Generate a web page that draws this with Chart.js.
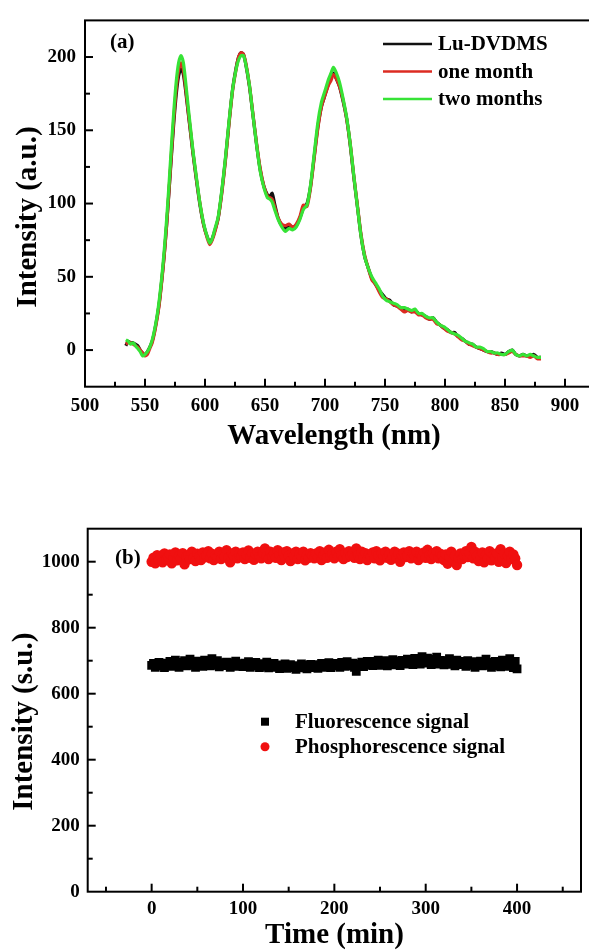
<!DOCTYPE html>
<html><head><meta charset="utf-8">
<script src="https://cdn.jsdelivr.net/npm/chart.js@4.4.0/dist/chart.umd.min.js"></script>
<style>
html,body{margin:0;padding:0;background:#fff;overflow:hidden;width:589px;height:951px;position:relative;}
#c1{position:absolute;left:0;top:0;}
#c2{position:absolute;left:0;top:470px;}
</style></head><body>
<canvas id="c1" width="600" height="470"></canvas>
<canvas id="c2" width="589" height="481"></canvas>
<script>
// ---------- data: panel (a) ----------
const wavelength = [534,536,538,540,542,544,546,548,550,552,554,556,558,560,562,564,566,568,570,572,574,576,578,580,582,584,586,588,590,
593,596,599,602,604,606,608,611,614,617,620,623,626,628,630,632,634,637,640,643,646,649,652,654,656,658,
661,664,667,670,673,676,679,682,685,688,691,694,697,700,703,705,707,709,
712,715,718,721,724,727,730,733,736,739,742,745,748,751,754,757,760,763,766,769,772,775,778,781,784,787,790,793,796,799,
802,805,808,811,814,817,820,823,826,829,832,835,838,841,844,847,850,853,856,859,862,865,868,871,874,877,880];
const luDVDMS = [3,6,5,5,4,3,0,-2,-3,-1,2,6,13,22,33,48,65,85,108,132,155,174,187,192,188,176,162,148,134,
115,98,85,77,74,76,81,90,108,130,155,178,193,200,203,202,195,180,160,140,123,112,106,105,107,100,
90,85,83,85,84,85,90,97,100,112,132,152,166,174,182,186,189,186,
180,170,158,140,118,98,78,64,56,49,45,41,38,35,34,31,30,29,27,28,26,27,25,24,23,21,22,19,17,15,
14,12,12,9,8,6,4,4,2,1,0,-1,-1,-2,-3,-2,-3,-1,0,-3,-4,-3,-4,-4,-3,-5,-5];
const oneMonth = [4,5,5,4,3,2,0,-2,-4,-3,1,5,12,21,32,47,64,85,109,134,158,178,191,196,191,178,163,149,135,
116,99,85,76,72,75,80,90,107,129,154,177,192,200,203,202,196,181,161,141,124,112,105,104,103,98,
90,86,85,86,84,86,91,99,98,111,131,151,166,174,181,184,188,186,
180,171,158,141,119,99,79,65,56,48,45,40,36,35,33,31,30,28,26,27,26,26,24,24,22,21,21,18,17,15,
13,12,11,9,7,6,4,3,2,1,0,-1,-2,-2,-3,-3,-3,-2,-1,-3,-4,-4,-4,-5,-4,-6,-6];
const twoMonths = [7,6,4,5,3,1,-1,-4,-3,-1,2,7,14,23,35,50,68,89,113,139,163,183,196,201,196,182,166,151,136,
117,99,86,77,73,76,82,91,109,131,156,178,192,198,201,201,195,181,160,140,122,111,104,103,101,96,
89,84,81,83,82,84,89,96,99,113,134,155,169,177,185,189,193,190,
183,172,159,141,119,98,78,64,56,50,46,42,37,34,33,32,31,29,29,28,27,28,25,25,23,22,22,19,17,16,
14,12,11,10,8,6,5,4,2,2,1,-1,-1,-2,-2,-3,-3,-1,0,-3,-4,-3,-4,-3,-4,-5,-5];
const specLabels = ['Lu-DVDMS','one month','two months'];
const specXTickLabels = [500,550,600,650,700,750,800,850,900];
const specYTickLabels = [0,50,100,150,200];
const specRange = {xMin:500, xMax:925, yMin:-25, yMax:225, xMinor:25, yMinor:25};

// ---------- data: panel (b) ----------
const timeMin = [0,2,4,6,8,10,12,14,16,18,20,22,24,26,28,30,32,34,36,38,40,42,44,46,48,50,52,54,56,58,
60,62,64,66,68,70,72,74,76,78,80,82,84,86,88,90,92,94,96,98,100,102,104,106,108,110,112,114,116,118,
120,122,124,126,128,130,132,134,136,138,140,142,144,146,148,150,152,154,156,158,160,162,164,166,168,170,172,174,176,178,
180,182,184,186,188,190,192,194,196,198,200,202,204,206,208,210,212,214,216,218,220,222,224,226,228,230,232,234,236,238,
240,242,244,246,248,250,252,254,256,258,260,262,264,266,268,270,272,274,276,278,280,282,284,286,288,290,292,294,296,298,
300,302,304,306,308,310,312,314,316,318,320,322,324,326,328,330,332,334,336,338,340,342,344,346,348,350,352,354,356,358,
360,362,364,366,368,370,372,374,376,378,380,382,384,386,388,390,392,394,396,398,400];
const fluorescence = [
686,692,680,688,695,684,690,679,693,686,
698,683,690,702,687,680,695,689,700,684,
691,705,686,694,680,699,688,696,683,702,
690,697,684,706,692,686,700,681,694,689,
685,696,690,680,694,687,699,683,691,688,
682,693,686,697,680,690,684,695,688,679,
691,685,683,696,678,689,684,692,680,687,
676,686,681,690,677,684,688,679,685,674,
683,678,690,680,686,675,684,689,679,682,
688,677,685,692,680,687,683,694,679,690,
684,692,686,680,695,688,683,697,689,685,
693,680,668,690,686,696,682,691,698,687,
692,685,698,690,702,686,695,689,700,684,
696,691,703,687,699,693,685,701,694,690,
705,692,698,688,707,695,700,690,712,697,
693,708,699,688,704,696,711,690,701,695,
687,700,693,706,689,697,684,702,692,698,
688,695,683,700,691,686,697,680,693,688,
699,684,692,705,686,695,680,690,698,685,
693,681,702,688,696,683,706,690,679,698,
675];
const phosphorescence = [
1000,1012,995,1020,1005,1018,998,1025,1008,1015,
1022,995,1012,1028,1004,1018,1010,1026,992,1015,
1020,1008,1030,1012,1002,1024,1016,1005,1028,1013,
1018,1032,1010,1024,1005,1020,1014,1030,1008,1022,
1015,1035,1012,998,1025,1018,1030,1010,1022,1016,
1028,1008,1020,1034,1012,1025,1006,1022,1030,1015,
1010,1026,1040,1018,1008,1030,1015,1024,1012,1035,
1020,1005,1028,1014,1032,1018,1002,1025,1015,1030,
1008,1022,1016,1030,1004,1020,1012,1026,1018,1010,
1025,1014,1032,1005,1020,1028,1012,1036,1018,1024,
1010,1030,1016,1038,1020,1008,1026,1014,1032,1018,
1024,1012,1040,1020,1008,1030,1016,1026,1005,1022,
1015,1028,1010,1032,1018,1004,1025,1016,1030,1012,
1022,1006,1018,1030,1012,1024,1000,1020,1028,1014,
1018,1032,1010,1024,1016,1030,1005,1022,1014,1028,
1012,1036,1020,1008,1026,1016,1032,1010,1024,1018,
1005,1022,994,1015,1030,1002,1018,990,1012,1025,
1008,1020,1032,1014,1026,1045,1010,1030,1018,1002,
1016,1028,998,1022,1010,1032,1004,1020,1014,1026,
1000,1038,1012,1025,996,1018,1030,1008,1022,1010,
990];
const signalLabels = ['Fluorescence signal','Phosphorescence signal'];
const timeXTickLabels = [0,100,200,300,400];
const timeYTickLabels = [0,200,400,600,800,1000];
const timeRange = {xMin:-70, xMax:470, yMin:0, yMax:1100, xMinor:50, yMinor:100};

// ---------- styling ----------
const SERIF = "'Liberation Serif','Times New Roman',serif";
const tickFont = {family:SERIF, size:19, weight:'bold'};

const decor = {
  id:'decor',
  afterDraw(chart, args, o){
    const ctx = chart.ctx, a = chart.chartArea;
    const xs = chart.scales.x, ys = chart.scales.y;
    const r = o.range;
    ctx.save();
    ctx.strokeStyle = '#000';
    ctx.lineWidth = 2;
    ctx.strokeRect(a.left, a.top, a.right - a.left, a.bottom - a.top);
    // inward ticks: majors at labelled values, minors between
    const majX = o.xMajor, majY = o.yMajor;
    for (let k = Math.ceil(r.xMin / r.xMinor); k * r.xMinor <= r.xMax; k++) {
      const v = k * r.xMinor, px = xs.getPixelForValue(v);
      if (px < a.left + 1 || px > a.right - 1) continue;
      const len = majX.includes(v) ? 8 : 5;
      ctx.beginPath(); ctx.moveTo(px, a.bottom); ctx.lineTo(px, a.bottom - len); ctx.stroke();
    }
    for (let k = Math.ceil(r.yMin / r.yMinor); k * r.yMinor <= r.yMax; k++) {
      const v = k * r.yMinor, py = ys.getPixelForValue(v);
      if (py < a.top + 1 || py > a.bottom - 1) continue;
      const len = majY.includes(v) ? 8 : 5;
      ctx.beginPath(); ctx.moveTo(a.left, py); ctx.lineTo(a.left + len, py); ctx.stroke();
    }
    // panel label
    ctx.fillStyle = '#000';
    ctx.font = 'bold 21px ' + SERIF;
    ctx.textBaseline = 'middle'; ctx.textAlign = 'left';
    ctx.fillText(o.panel.text, o.panel.x, o.panel.y);
    // axis titles
    ctx.font = 'bold 29px ' + SERIF;
    ctx.textAlign = 'center';
    ctx.fillText(o.xTitle.text, o.xTitle.x, o.xTitle.y);
    ctx.save();
    ctx.translate(o.yTitle.x, o.yTitle.y); ctx.rotate(-Math.PI / 2);
    ctx.fillText(o.yTitle.text, 0, 0);
    ctx.restore();
    // legend
    ctx.font = 'bold 21px ' + SERIF;
    ctx.textAlign = 'left';
    const L = o.legend;
    chart.data.datasets.forEach((ds, i) => {
      const y = L.y + i * L.dy;
      if (L.type === 'line') {
        ctx.strokeStyle = ds.borderColor; ctx.lineWidth = 2.6;
        ctx.beginPath(); ctx.moveTo(L.x0, y); ctx.lineTo(L.x1, y); ctx.stroke();
      } else {
        ctx.fillStyle = ds.backgroundColor;
        if (ds.pointStyle === 'rect') ctx.fillRect(L.x0 - 4, y - 4, 8, 8);
        else { ctx.beginPath(); ctx.arc(L.x0, y, 4.5, 0, Math.PI * 2); ctx.fill(); }
      }
      ctx.fillStyle = '#000';
      ctx.fillText(ds.label, L.tx, y + 1);
    });
    ctx.restore();
  }
};

function pts(xs, ys){ return xs.map((x, i) => ({x:x, y:ys[i]})); }
function fixedTicks(values){ return s => { s.ticks = values.map(v => ({value:v})); }; }
const plainLabel = v => String(v);
const noGrid = {display:false, drawTicks:false, tickLength:0};

// ---------- chart (a) ----------
new Chart(document.getElementById('c1'), {
  type:'line',
  data:{datasets:[
    {label:specLabels[0], data:pts(wavelength, luDVDMS), borderColor:'#111111', order:2},
    {label:specLabels[1], data:pts(wavelength, oneMonth), borderColor:'#dc2b22', order:1},
    {label:specLabels[2], data:pts(wavelength, twoMonths), borderColor:'#36e336', order:0}
  ]},
  options:{
    responsive:false, animation:false, devicePixelRatio:1,
    layout:{padding:{left:0, top:12.5, right:5, bottom:0}},
    elements:{line:{borderWidth:3.2, tension:0.25, fill:false}, point:{radius:0}},
    plugins:{legend:{display:false}, tooltip:{enabled:false},
      decor:{range:specRange, xMajor:specXTickLabels, yMajor:specYTickLabels,
        panel:{text:'(a)', x:110, y:43},
        xTitle:{text:'Wavelength (nm)', x:334, y:437},
        yTitle:{text:'Intensity (a.u.)', x:29, y:217},
        legend:{type:'line', x0:383, x1:432, tx:438, y:44, dy:27.5}}},
    scales:{
      x:{type:'linear', min:specRange.xMin, max:specRange.xMax,
        grid:noGrid, border:{display:false},
        afterBuildTicks:fixedTicks(specXTickLabels),
        ticks:{font:tickFont, color:'#000', padding:8, maxRotation:0, autoSkip:false, callback:plainLabel},
        afterFit:s => { s.height = 83.3; }},
      y:{type:'linear', min:specRange.yMin, max:specRange.yMax,
        grid:noGrid, border:{display:false},
        afterBuildTicks:fixedTicks(specYTickLabels),
        ticks:{font:tickFont, color:'#000', padding:9, autoSkip:false, callback:plainLabel},
        afterFit:s => { s.width = 85; }}
    }
  },
  plugins:[decor]
});

// ---------- chart (b) ----------
new Chart(document.getElementById('c2'), {
  type:'scatter',
  data:{datasets:[
    {label:signalLabels[0], data:pts(timeMin, fluorescence), pointStyle:'rect', pointRadius:6.2,
      backgroundColor:'#000000', borderColor:'#000000', borderWidth:0},
    {label:signalLabels[1], data:pts(timeMin, phosphorescence), pointStyle:'circle', pointRadius:5.2,
      backgroundColor:'#f01010', borderColor:'#f01010', borderWidth:0}
  ]},
  options:{
    responsive:false, animation:false, devicePixelRatio:1,
    layout:{padding:{left:0, top:58.7, right:8, bottom:0}},
    plugins:{legend:{display:false}, tooltip:{enabled:false},
      decor:{range:timeRange, xMajor:timeXTickLabels, yMajor:timeYTickLabels,
        panel:{text:'(b)', x:115, y:89},
        xTitle:{text:'Time (min)', x:334.5, y:466},
        yTitle:{text:'Intensity (s.u.)', x:25, y:251.7},
        legend:{type:'marker', x0:265, tx:295, y:251.7, dy:25}}},
    scales:{
      x:{type:'linear', min:timeRange.xMin, max:timeRange.xMax,
        grid:noGrid, border:{display:false},
        afterBuildTicks:fixedTicks(timeXTickLabels),
        ticks:{font:tickFont, color:'#000', padding:6, maxRotation:0, autoSkip:false, callback:plainLabel},
        afterFit:s => { s.height = 59.3; }},
      y:{type:'linear', min:timeRange.yMin, max:timeRange.yMax,
        grid:noGrid, border:{display:false},
        afterBuildTicks:fixedTicks(timeYTickLabels),
        ticks:{font:tickFont, color:'#000', padding:8, autoSkip:false, callback:plainLabel},
        afterFit:s => { s.width = 87.7; }}
    }
  },
  plugins:[decor]
});
</script>
</body></html>
